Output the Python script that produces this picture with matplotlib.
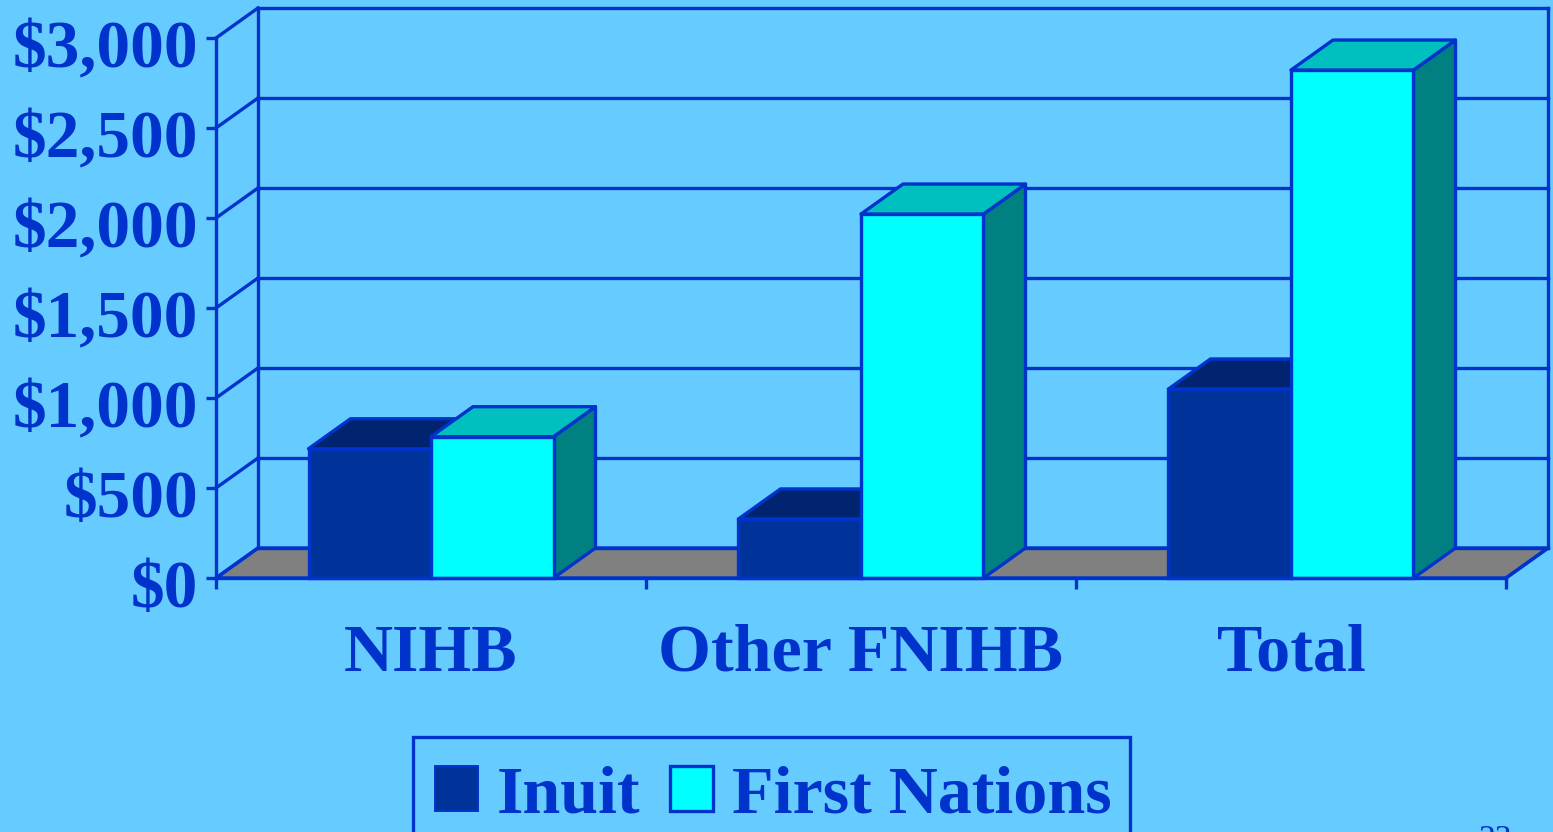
import matplotlib
matplotlib.use("Agg")
import matplotlib.pyplot as plt
from matplotlib.patches import Polygon, Patch, Rectangle
from matplotlib.transforms import ScaledTranslation

categories = ["NIHB", "Other FNIHB", "Total"]
inuit = [718, 328, 1050]
first_nations = [785, 2022, 2822]
yticks = [0, 500, 1000, 1500, 2000, 2500, 3000]
ytick_labels = ["$0", "$500", "$1,000", "$1,500", "$2,000", "$2,500", "$3,000"]

W, H = 1553, 832
BG = "#66CCFF"
LINE = "#0033CC"
FLOOR = "#808080"
INUIT = ("#003399", "#002470", "#002470")       # front, top, side
FN = ("#00FFFF", "#00BFBF", "#008080")
LW = 2.4
FONT = "Liberation Serif"

# oblique-depth offsets, in data units (42 px across, 30 px up)
DX = 42 / 430
DY = 30 / 0.18
BAR_W = 122.5 / 430

plt.rcParams["font.family"] = FONT
fig = plt.figure(figsize=(W / 100, H / 100), dpi=100, facecolor=BG)
ax = fig.add_axes([216 / W, (H - 578) / H, 1290 / W, 540 / H], facecolor="none")
ax.set_xlim(0, 3)
ax.set_ylim(0, 3000)


def poly(pts, fc, z, closed=True, ec=LINE):
    ax.add_patch(Polygon(pts, closed=closed, facecolor=fc, edgecolor=ec, linewidth=LW,
                         zorder=z, clip_on=False, joinstyle="round"))


# floor
poly([(0, 0), (DX, DY), (3 + DX, DY), (3, 0)], FLOOR, 1)
# back wall and side wall with gridlines
for v in yticks:
    ax.plot([DX, 3 + DX], [v + DY, v + DY], color=LINE, lw=LW, zorder=1.2, clip_on=False)
    ax.plot([0, DX], [v, v + DY], color=LINE, lw=LW, zorder=1.2, clip_on=False)
ax.plot([DX, DX], [DY, 3000 + DY], color=LINE, lw=LW, zorder=1.2, clip_on=False)
ax.plot([3 + DX, 3 + DX], [DY, 3000 + DY], color=LINE, lw=LW, zorder=1.2, clip_on=False)
ax.plot([3, 3 + DX], [0, DY], color=LINE, lw=LW, zorder=1.2, clip_on=False)


def bars(values, x_off, cols, z):
    for i, v in enumerate(values):
        x0 = i + 0.5 + x_off
        x1 = x0 + BAR_W
        poly([(x1, 0), (x1 + DX, DY), (x1 + DX, v + DY), (x1, v)], cols[2], z)
        poly([(x0, v), (x0 + DX, v + DY), (x1 + DX, v + DY), (x1, v)], cols[1], z)
    ax.bar([i + 0.5 + x_off for i in range(len(values))], values, width=BAR_W, align="edge",
           color=cols[0], edgecolor=LINE, linewidth=LW, zorder=z + 0.1, clip_on=False)


bars(inuit, -BAR_W, INUIT, 3)
bars(first_nations, 0, FN, 4)

for s in ("top", "right"):
    ax.spines[s].set_visible(False)
for s in ("left", "bottom"):
    ax.spines[s].set_color(LINE)
    ax.spines[s].set_linewidth(LW)
    ax.spines[s].set_zorder(6)

ax.set_yticks(yticks)
ax.set_yticklabels(ytick_labels, fontsize=48.5, fontweight="bold", color=LINE)
ax.tick_params(axis="y", length=7.5, width=LW, color=LINE, pad=5.5)
ax.set_xticks([0, 1, 2, 3])
ax.set_xticklabels([])
ax.tick_params(axis="x", which="major", length=8, width=LW, color=LINE)
ax.set_xticks([0.5, 1.5, 2.5], minor=True)
ax.set_xticklabels(categories, minor=True, fontsize=49, fontweight="bold", color=LINE)
ax.tick_params(axis="x", which="minor", length=0, pad=33)

# nudge the value labels down to sit as in the reference
shift = ScaledTranslation(0, -6 / 100, fig.dpi_scale_trans)
for lab in ax.get_yticklabels():
    lab.set_transform(lab.get_transform() + shift)

# legend
fig.add_artist(Rectangle((413 / W, -20 / H), 717 / W, (H - 737 + 20) / H, transform=fig.transFigure,
                         facecolor="none", edgecolor=LINE, linewidth=LW))
handles = [Patch(facecolor=INUIT[0], edgecolor=LINE, linewidth=1.4),
           Patch(facecolor=FN[0], edgecolor=LINE, linewidth=LW)]
leg = ax.legend(handles, ["Inuit", "First Nations"], ncol=2, frameon=False,
                loc="center", bbox_to_anchor=(773 / W, (H - 796) / H),
                bbox_transform=fig.transFigure,
                prop={"family": FONT, "weight": "bold", "size": 49},
                handlelength=0.64, handleheight=0.64, handletextpad=0.27,
                columnspacing=0.44, borderpad=0, borderaxespad=0, labelcolor=LINE)

fig.text(1495 / W, (H - 824) / H, "23", fontsize=24, color=LINE, ha="center", va="top")

fig.savefig("out.png", dpi=100, facecolor=BG)
